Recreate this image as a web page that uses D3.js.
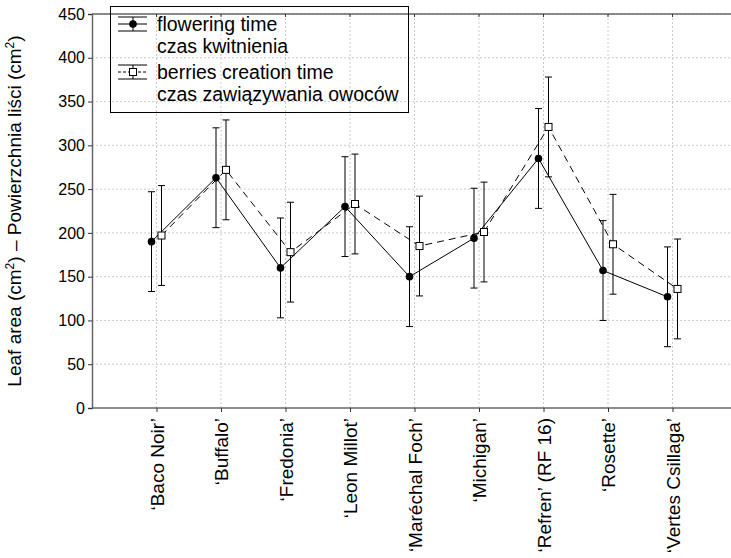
<!DOCTYPE html>
<html>
<head>
<meta charset="utf-8">
<script src="https://cdn.jsdelivr.net/npm/d3@7"></script>
<style>
    body { margin: 0; background: #fff; }
    svg { display: block; font-family: "Liberation Sans", Arial, sans-serif; }
</style>
</head>
<body>
<div id="chart"></div>
<script>
// Data
const cultivars = ['‘Baco Noir’', '‘Buffalo’', '‘Fredonia’', '‘Leon Millot’', '‘Maréchal Foch’',
    '‘Michigan’', '‘Refren’ (RF 16)', '‘Rosette’', '‘Vertes Csillaga’'];
const floweringMean = [190, 263, 160, 230, 150, 194, 285, 157, 127];
const floweringErr = [57, 57, 57, 57, 57, 57, 57, 57, 57];
const berriesMean = [197, 272, 178, 233, 185, 201, 321, 187, 136];
const berriesErr = [57, 57, 57, 57, 57, 57, 57, 57, 57];
const yTicks = [0, 50, 100, 150, 200, 250, 300, 350, 400, 450];

const width = 731, height = 558;
const margin = {top: 14, left: 92, bottom: 408};

const svg = d3.select('#chart').append('svg')
    .attr('width', width)
    .attr('height', height);

const x = d3.scaleLinear().domain([-1, 9]).range([margin.left, 737]);
const y = d3.scaleLinear().domain([0, 450]).range([margin.bottom, margin.top]);

// Grid
svg.append('g').selectAll('line')
    .data(yTicks.slice(1))
    .enter().append('line')
    .attr('x1', margin.left).attr('x2', width)
    .attr('y1', d => y(d)).attr('y2', d => y(d))
    .attr('stroke', '#ccc').attr('stroke-dasharray', '2,2');

svg.append('g').selectAll('line')
    .data(d3.range(cultivars.length))
    .enter().append('line')
    .attr('x1', d => x(d)).attr('x2', d => x(d))
    .attr('y1', margin.top).attr('y2', margin.bottom)
    .attr('stroke', '#ccc').attr('stroke-dasharray', '2,2');

// Axes
const axisColor = '#666';
const yAxis = svg.append('g')
    .attr('transform', `translate(${margin.left},0)`)
    .call(d3.axisLeft(y).tickValues(yTicks).tickSize(4).tickPadding(3));
yAxis.select('.domain').attr('stroke', axisColor).attr('stroke-width', 1.5);
yAxis.selectAll('.tick line').attr('stroke', '#333');
yAxis.selectAll('text').attr('font-size', 16).attr('fill', '#000')
    .attr('font-family', '"Liberation Sans", Arial, sans-serif');

const xAxis = svg.append('g')
    .attr('transform', `translate(0,${margin.bottom})`)
    .call(d3.axisBottom(x).tickValues(d3.range(cultivars.length))
        .tickFormat(i => cultivars[i]).tickSize(4).tickSizeOuter(0));
xAxis.select('.domain').attr('d', `M${margin.left},0H${width}`)
    .attr('stroke', axisColor).attr('stroke-width', 1.5);
xAxis.selectAll('.tick line').attr('stroke', '#333');
xAxis.selectAll('text')
    .attr('font-size', 19).attr('fill', '#000')
    .attr('font-family', '"Liberation Sans", Arial, sans-serif')
    .attr('transform', 'rotate(-90)')
    .attr('text-anchor', 'end')
    .attr('x', -10).attr('y', 0).attr('dy', '0.35em');

// Top frame line with small inward ticks
svg.append('line')
    .attr('x1', margin.left).attr('x2', width)
    .attr('y1', margin.top).attr('y2', margin.top)
    .attr('stroke', axisColor).attr('stroke-width', 1.5);
svg.append('g').selectAll('line')
    .data(d3.range(cultivars.length))
    .enter().append('line')
    .attr('x1', d => x(d)).attr('x2', d => x(d))
    .attr('y1', margin.top).attr('y2', margin.top + 3)
    .attr('stroke', '#333');

// Y title
const yTitle = svg.append('text')
    .attr('transform', `translate(21,${(margin.top + margin.bottom) / 2}) rotate(-90)`)
    .attr('text-anchor', 'middle')
    .attr('font-size', 19);
yTitle.append('tspan').text('Leaf area (cm');
yTitle.append('tspan').text('2').attr('font-size', 12).attr('dy', -7);
yTitle.append('tspan').text(') – Powierzchnia liści (cm').attr('dy', 7);
yTitle.append('tspan').text('2').attr('font-size', 12).attr('dy', -7);
yTitle.append('tspan').text(')').attr('dy', 7);

// Series
const series = [
    {mean: floweringMean, err: floweringErr, offset: -5, dash: null, marker: 'circle'},
    {mean: berriesMean, err: berriesErr, offset: 5, dash: '7,5', marker: 'square'}
];

series.forEach(s => {
    const g = svg.append('g');
    const idx = d3.range(s.mean.length);
    const line = d3.line().x(i => x(i) + s.offset).y(i => y(s.mean[i]));

    g.append('path')
        .attr('d', line(idx))
        .attr('fill', 'none')
        .attr('stroke', '#000')
        .attr('stroke-width', 1)
        .attr('stroke-dasharray', s.dash);

    idx.forEach(i => {
        const cx = x(i) + s.offset;
        const top = y(s.mean[i] + s.err[i]);
        const bot = y(s.mean[i] - s.err[i]);
        g.append('line').attr('x1', cx).attr('x2', cx).attr('y1', top).attr('y2', bot)
            .attr('stroke', '#000');
        [top, bot].forEach(v => {
            g.append('line').attr('x1', cx - 3.5).attr('x2', cx + 3.5).attr('y1', v).attr('y2', v)
                .attr('stroke', '#000');
        });
    });

    if (s.marker === 'circle') {
        g.selectAll('circle').data(idx).enter().append('circle')
            .attr('cx', i => x(i) + s.offset)
            .attr('cy', i => y(s.mean[i]))
            .attr('r', 3.8)
            .attr('fill', '#000');
    } else {
        g.selectAll('rect').data(idx).enter().append('rect')
            .attr('x', i => x(i) + s.offset - 3.5)
            .attr('y', i => y(s.mean[i]) - 3.5)
            .attr('width', 7).attr('height', 7)
            .attr('fill', '#fff').attr('stroke', '#000');
    }
});

// Legend
const legend = svg.append('g');
legend.append('rect')
    .attr('x', 110.5).attr('y', 6.5).attr('width', 298).attr('height', 106)
    .attr('fill', 'none').attr('stroke', '#000');

const legendItems = [
    {lines: ['flowering time', 'czas kwitnienia'], cy: 24, marker: 'circle', dash: null},
    {lines: ['berries creation time', 'czas zawiązywania owoców'], cy: 72, marker: 'square', dash: '3,2'}
];

legendItems.forEach(item => {
    const g = legend.append('g');
    g.append('line').attr('x1', 118).attr('x2', 147).attr('y1', item.cy).attr('y2', item.cy)
        .attr('stroke', '#000').attr('stroke-dasharray', item.dash);
    [item.cy - 7, item.cy + 7].forEach(v => {
        g.append('line').attr('x1', 118).attr('x2', 147).attr('y1', v).attr('y2', v)
            .attr('stroke', '#000');
    });
    g.append('line').attr('x1', 133).attr('x2', 133).attr('y1', item.cy - 7).attr('y2', item.cy + 7)
        .attr('stroke', '#000');
    if (item.marker === 'circle') {
        g.append('circle').attr('cx', 133).attr('cy', item.cy).attr('r', 3.8).attr('fill', '#000');
    } else {
        g.append('rect').attr('x', 129.5).attr('y', item.cy - 3.5).attr('width', 7).attr('height', 7)
            .attr('fill', '#fff').attr('stroke', '#000');
    }
    item.lines.forEach((t, k) => {
        g.append('text')
            .attr('x', 157).attr('y', item.cy + 7 + k * 22)
            .attr('font-size', 19.5)
            .text(t);
    });
});
</script>
</body>
</html>
